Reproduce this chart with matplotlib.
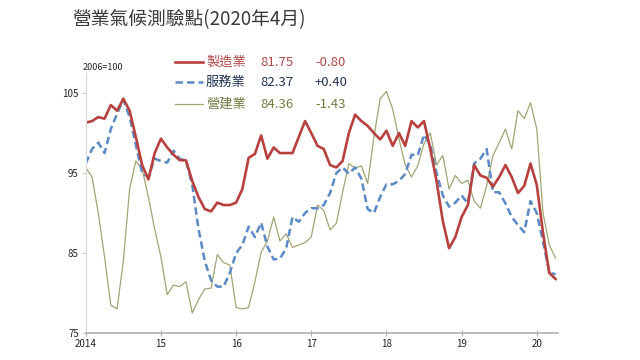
import matplotlib
matplotlib.use("Agg")
import matplotlib.pyplot as plt
from matplotlib.lines import Line2D
import numpy as np

plt.rcParams["font.family"] = ["Noto Sans CJK TC", "DejaVu Sans"]

# monthly index values, Jan 2014 .. Apr 2020
manufacturing = [
    101.3, 101.5, 102.0, 101.8, 103.5, 102.8, 104.3, 102.8, 99.5, 96.0, 94.2, 97.5,
    99.3, 98.2, 97.3, 96.6, 96.6, 94.0, 92.0, 90.5, 90.2, 91.3, 91.0, 91.0,
    91.3, 93.0, 96.9, 97.4, 99.7, 96.8, 98.2, 97.5, 97.5, 97.5, 99.5, 101.5,
    100.0, 98.4, 98.0, 96.0, 95.7, 96.5, 100.0, 102.3, 101.5, 100.9, 100.0, 99.2,
    100.3, 98.4, 100.0, 98.4, 101.5, 100.7, 101.5, 98.0, 94.0, 89.0, 85.6, 87.0,
    89.5, 91.0, 96.0, 94.7, 94.4, 93.3, 94.5, 96.0, 94.5, 92.5, 93.4, 96.2,
    93.5, 87.5, 82.5, 81.75,
]
services = [
    96.2, 98.0, 98.8, 97.5, 100.5, 102.4, 104.2, 102.0, 98.5, 95.0, 94.5, 96.8,
    96.5, 96.3, 97.8, 96.8, 96.5, 93.5, 88.0, 84.0, 81.6, 80.8, 80.8, 82.5,
    85.0, 86.0, 88.3, 87.0, 88.8, 85.8, 84.2, 84.3, 85.6, 89.5, 88.9, 90.0,
    90.6, 90.6, 91.0, 92.5, 95.0, 95.7, 94.9, 95.7, 94.3, 90.5, 90.0, 92.0,
    93.6, 93.6, 94.0, 94.9, 97.3, 97.2, 99.8, 98.5, 95.0, 92.2, 90.8, 91.3,
    92.2, 91.2, 96.2, 96.8, 98.0, 92.6, 92.6, 91.2, 89.5, 88.5, 87.6, 91.5,
    90.0, 86.4, 82.5, 82.37,
]
construction = [
    95.7, 94.5, 90.0, 84.5, 78.5, 78.0, 84.0, 93.0, 96.5, 95.5, 92.0, 88.0,
    84.5, 79.8, 81.0, 80.8, 81.4, 77.5, 79.2, 80.5, 80.6, 84.8, 83.8, 83.5,
    78.2, 78.0, 78.2, 81.4, 85.1, 86.5, 89.5, 86.5, 87.4, 85.7, 86.0, 86.3,
    87.0, 91.0, 90.3, 87.9, 88.7, 92.6, 96.2, 95.6, 95.9, 93.7, 99.5, 104.3,
    105.2, 103.0, 99.3, 96.0, 94.5, 95.9, 98.7, 100.0, 96.0, 97.2, 93.0, 94.7,
    93.7, 94.1, 91.5, 90.6, 93.4, 97.2, 98.8, 100.5, 98.0, 102.8, 101.8, 103.8,
    100.5, 90.0, 86.0, 84.36,
]
year_labels = ["2014", "15", "16", "17", "18", "19", "20"]
y_ticks = [75, 85, 95, 105]

names = ["製造業", "服務業", "營建業"]
latest = ["81.75", "82.37", "84.36"]
change = ["-0.80", "+0.40", "-1.43"]

line_colors = ["#b8413e", "#5a8ac6", "#a3a473"]
text_colors = ["#b04a48", "#1f3552", "#737a3e"]
styles = [dict(lw=1.9, ls="-"), dict(lw=1.8, ls=(0, (3, 1.6))), dict(lw=0.9, ls="-")]

months = np.arange(len(manufacturing))

fig = plt.figure(figsize=(6.4, 3.6), dpi=100)
ax = fig.add_axes([0.134, 0.075, 0.738, 0.722])

# draw construction first, manufacturing on top
for series, i in [(construction, 2), (services, 1), (manufacturing, 0)]:
    ax.plot(months, series, color=line_colors[i], solid_joinstyle="round", **styles[i])

ax.set_xlim(0, 75.4)
ax.set_ylim(75, 107.5)
ax.set_xticks(np.arange(0, 73, 12))
ax.set_xticklabels(year_labels)
ax.set_yticks(y_ticks)
for s in ["top", "right"]:
    ax.spines[s].set_visible(False)
ax.spines["left"].set_color("#d8d8d8")
ax.spines["bottom"].set_color("#b0b0b0")
ax.spines["bottom"].set_linewidth(1.2)
ax.tick_params(axis="x", direction="inout", length=4, color="#b0b0b0",
               labelsize=7, labelcolor="#222222", pad=2)
ax.tick_params(axis="y", direction="out", length=3, color="#d0d0d0",
               labelsize=7, labelcolor="#222222", pad=2)

fig.text(72 / 640, 1 - 20 / 360, "營業氣候測驗點(2020年4月)", fontsize=13.5,
         color="#3a3a3a", va="center", ha="left")
fig.text(83 / 640, 1 - 67 / 360, "2006=100", fontsize=6.5, color="#222222",
         va="center", ha="left")

rows_y = [62, 82, 104]
for i in range(3):
    yf = 1 - rows_y[i] / 360
    fig.add_artist(Line2D([175 / 640, 203 / 640], [yf, yf], color=line_colors[i],
                          transform=fig.transFigure, **styles[i]))
    fig.text(206 / 640, yf, names[i], fontsize=9.5, color=text_colors[i], va="center")
    fig.text(260 / 640, yf, latest[i], fontsize=9.5, color=text_colors[i], va="center")
    fig.text(315 / 640, yf, change[i], fontsize=9.5, color=text_colors[i], va="center")

fig.savefig("out.png", dpi=100)
